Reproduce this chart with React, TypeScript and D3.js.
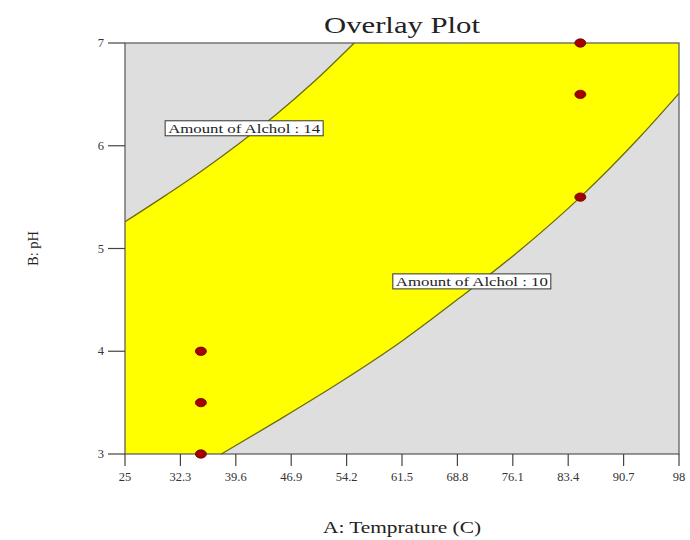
import React from 'react';
import * as d3 from 'd3';

// axis ticks
const xTicks = [25, 32.3, 39.6, 46.9, 54.2, 61.5, 68.8, 76.1, 83.4, 90.7, 98];
const yTicks = [3, 4, 5, 6, 7];

// contour "Amount of Alchol : 14" (upper boundary of the sweet spot)
const upperX = [25, 30, 35, 40, 45, 50, 55.2];
const upperY = [5.26, 5.5, 5.75, 6.02, 6.31, 6.63, 7.0];

// contour "Amount of Alchol : 10" (lower boundary)
const lowerX = [37.7, 45.0, 53.8, 61.7, 69.1, 77.0, 85.0, 92.9, 98];
const lowerY = [3.0, 3.32, 3.72, 4.11, 4.52, 4.98, 5.5, 6.09, 6.51];

// design points
const pointX = [35, 35, 35, 85, 85, 85];
const pointY = [3, 3.5, 4, 5.5, 6.5, 7];

// contour labels
const labelText = ['Amount of Alchol : 14', 'Amount of Alchol : 10'];
const labelX = [40.7, 70.7];
const labelY = [6.17, 4.68];
const labelW = [158, 158];

const W = 690;
const H = 540;
const margin = { top: 43, right: 11, bottom: 86, left: 125 };
const serif = '"Liberation Serif", "DejaVu Serif", serif';

const App: React.FC = () => {
    const x = d3.scaleLinear().domain([25, 98]).range([margin.left, W - margin.right]);
    const y = d3.scaleLinear().domain([3, 7]).range([H - margin.bottom, margin.top]);

    const upper = upperX.map((v, i) => [v, upperY[i]] as [number, number]);
    const lower = lowerX.map((v, i) => [v, lowerY[i]] as [number, number]);

    const line = d3.line<[number, number]>()
        .x(d => x(d[0]))
        .y(d => y(d[1]))
        .curve(d3.curveMonotoneX);

    const areaAbove = d3.area<[number, number]>()
        .x(d => x(d[0]))
        .y0(y(7))
        .y1(d => y(d[1]))
        .curve(d3.curveMonotoneX);

    const areaBelow = d3.area<[number, number]>()
        .x(d => x(d[0]))
        .y0(y(3))
        .y1(d => y(d[1]))
        .curve(d3.curveMonotoneX);

    const x0 = x(25), x1 = x(98), yTop = y(7), yBot = y(3);

    return (
        <svg width={W} height={H} style={{ position: 'absolute', left: 0, top: 0, background: '#fff' }}>
            {/* sweet spot */}
            <rect x={x0} y={yTop} width={x1 - x0} height={yBot - yTop} fill="#ffff00" />
            <path d={areaAbove(upper) || ''} fill="#dedede" />
            <path d={areaBelow(lower) || ''} fill="#dedede" />
            <path d={line(upper) || ''} fill="none" stroke="#6b6b10" strokeWidth={1.3} />
            <path d={line(lower) || ''} fill="none" stroke="#6b6b10" strokeWidth={1.3} />

            {/* frame */}
            <rect x={x0} y={yTop} width={x1 - x0} height={yBot - yTop} fill="none" stroke="#555" strokeWidth={1.2} />

            {/* x axis ticks */}
            {xTicks.map(t => (
                <g key={'x' + t}>
                    <line x1={x(t)} x2={x(t)} y1={yBot} y2={yBot + 12} stroke="#444" strokeWidth={1.2} />
                    <text x={x(t)} y={yBot + 27} textAnchor="middle" fontFamily={serif} fontSize={12.5} fill="#333">{t}</text>
                </g>
            ))}

            {/* y axis ticks */}
            {yTicks.map(t => (
                <g key={'y' + t}>
                    <line x1={x0 - 17} x2={x0} y1={y(t)} y2={y(t)} stroke="#444" strokeWidth={1.2} />
                    <text x={x0 - 21} y={y(t) + 4} textAnchor="end" fontFamily={serif} fontSize={12.5} fill="#333">{t}</text>
                </g>
            ))}

            {/* contour labels */}
            {labelText.map((s, i) => (
                <g key={s}>
                    <rect x={x(labelX[i]) - labelW[i] / 2} y={y(labelY[i]) - 7.5} width={labelW[i]} height={15}
                        fill="#fff" stroke="#333" strokeWidth={1} />
                    <text x={x(labelX[i])} y={y(labelY[i]) + 4.5} textAnchor="middle" fontFamily={serif} fontSize={13.5}
                        fill="#222" textLength={labelW[i] - 6} lengthAdjust="spacingAndGlyphs">{s}</text>
                </g>
            ))}

            {/* design points */}
            {pointX.map((v, i) => (
                <ellipse key={'p' + i} cx={x(v)} cy={y(pointY[i])} rx={5.5} ry={4.2} fill="#a40000" stroke="#6a0000" strokeWidth={0.8} />
            ))}

            {/* titles */}
            <text x={(x0 + x1) / 2} y={33} textAnchor="middle" fontFamily={serif} fontSize={24} fill="#222"
                textLength={156} lengthAdjust="spacingAndGlyphs">Overlay Plot</text>
            <text x={(x0 + x1) / 2} y={533} textAnchor="middle" fontFamily={serif} fontSize={16.5} fill="#222"
                textLength={158} lengthAdjust="spacingAndGlyphs">A: Temprature (C)</text>
            <text transform={`translate(38, ${(yTop + yBot) / 2}) rotate(-90)`} textAnchor="middle" fontFamily={serif}
                fontSize={14.5} fill="#222">B: pH</text>
        </svg>
    );
};

export default App;
